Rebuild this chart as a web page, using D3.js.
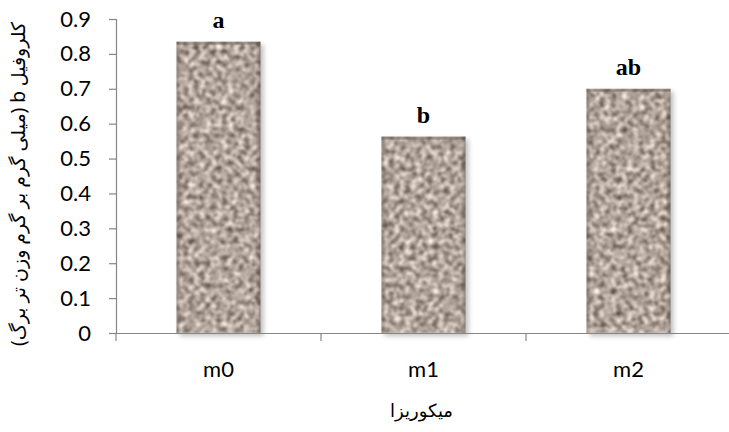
<!DOCTYPE html>
<html>
<head>
<meta charset="utf-8">
<script src="https://cdn.jsdelivr.net/npm/d3@7"></script>
<style>
  html, body { margin: 0; padding: 0; background: #fff; }
  svg { display: block; }
</style>
</head>
<body>
<div id="chart"></div>
<script>
// Chlorophyll b by mycorrhiza treatment
const categories = ["m0", "m1", "m2"];
const values = [0.835, 0.563, 0.700];
const letters = ["a", "b", "ab"];
const yTicks = [0, 0.1, 0.2, 0.3, 0.4, 0.5, 0.6, 0.7, 0.8, 0.9];
const yTitle = "کلروفیل b (میلی گرم بر گرم وزن تر برگ)";
const xTitle = "میکوریزا";

const W = 729, H = 432;
const margin = { left: 116, right: -2, top: 19, bottom: 99 };

const svg = d3.select("#chart").append("svg")
  .attr("width", W).attr("height", H);

const defs = svg.append("defs");

// granite-like fill for the bars
const f = defs.append("filter").attr("id", "granite")
  .attr("color-interpolation-filters", "sRGB")
  .attr("x", "0").attr("y", "0").attr("width", "1").attr("height", "1");
f.append("feTurbulence").attr("type", "fractalNoise")
  .attr("baseFrequency", "0.18").attr("numOctaves", 3).attr("seed", 7)
  .attr("result", "noise");
f.append("feColorMatrix").attr("in", "noise").attr("type", "matrix")
  .attr("values", [
    "1.05 0 0 0 0.17",
    "1.05 0 0 0 0.12",
    "1.05 0 0 0 0.08",
    "0 0 0 0 1"].join(" "))
  .attr("result", "tone");
f.append("feGaussianBlur").attr("in", "tone").attr("stdDeviation", 0.9)
  .attr("result", "soft");
f.append("feComposite").attr("in", "soft").attr("in2", "SourceGraphic")
  .attr("operator", "in");

const shadow = defs.append("filter").attr("id", "shadow")
  .attr("x", "-20%").attr("y", "-20%").attr("width", "140%").attr("height", "140%");
shadow.append("feGaussianBlur").attr("stdDeviation", 2.5);

// soft bevel along the edges
const gH = defs.append("linearGradient").attr("id", "bevelH")
  .attr("x1", "0").attr("x2", "1").attr("y1", "0").attr("y2", "0");
[[0, 0.35], [0.06, 0], [0.94, 0], [1, 0.4]].forEach(([o, a]) =>
  gH.append("stop").attr("offset", o).attr("stop-color", "#3a3028").attr("stop-opacity", a));

const x = d3.scaleBand().domain(categories)
  .range([margin.left, W - margin.right]).paddingInner(0.59).paddingOuter(0.295);
const y = d3.scaleLinear().domain([0, 0.9]).range([H - margin.bottom, margin.top]);

const xBand = d3.scaleBand().domain(categories)
  .range([margin.left, W - margin.right]);

// bar shadows
svg.append("g").selectAll("rect").data(values).join("rect")
  .attr("x", (d, i) => x(categories[i]) + 3)
  .attr("y", d => y(d) + 3)
  .attr("width", x.bandwidth())
  .attr("height", d => y(0) - y(d))
  .attr("fill", "#000").attr("opacity", 0.25)
  .attr("filter", "url(#shadow)");

// bars
const bars = svg.append("g");
bars.selectAll("rect.bar").data(values).join("rect")
  .attr("class", "bar")
  .attr("x", (d, i) => x(categories[i]))
  .attr("y", d => y(d))
  .attr("width", x.bandwidth())
  .attr("height", d => y(0) - y(d))
  .attr("fill", "#b8aca0")
  .attr("filter", "url(#granite)");
bars.selectAll("rect.bevel").data(values).join("rect")
  .attr("class", "bevel")
  .attr("x", (d, i) => x(categories[i]))
  .attr("y", d => y(d))
  .attr("width", x.bandwidth())
  .attr("height", d => y(0) - y(d))
  .attr("fill", "url(#bevelH)");
bars.selectAll("rect.topEdge").data(values).join("rect")
  .attr("class", "topEdge")
  .attr("x", (d, i) => x(categories[i]))
  .attr("y", d => y(d))
  .attr("width", x.bandwidth())
  .attr("height", 3)
  .attr("fill", "#5a4e44").attr("opacity", 0.4);

// significance letters
svg.append("g").selectAll("text").data(values).join("text")
  .attr("x", (d, i) => x(categories[i]) + x.bandwidth() / 2)
  .attr("y", d => y(d) - 14)
  .attr("text-anchor", "middle")
  .attr("font-family", "'Liberation Serif', 'DejaVu Serif', serif")
  .attr("font-weight", "bold")
  .attr("font-size", 24)
  .attr("fill", "#000")
  .text((d, i) => letters[i]);

// y axis
const yAxis = svg.append("g")
  .attr("transform", `translate(${margin.left},0)`)
  .call(d3.axisLeft(y).tickValues(yTicks).tickSize(7).tickPadding(18)
    .tickFormat(d => d === 0 ? "0" : d3.format(".1f")(d)));
yAxis.select(".domain").attr("stroke", "#868686").attr("stroke-width", 1.2);
yAxis.selectAll(".tick line").attr("stroke", "#868686").attr("stroke-width", 1.2);
yAxis.selectAll(".tick text")
  .attr("font-family", "Lato, 'Open Sans', sans-serif")
  .attr("font-size", 22).attr("fill", "#000");

// x axis
const xAxis = svg.append("g")
  .attr("transform", `translate(0,${y(0)})`)
  .call(d3.axisBottom(xBand).tickSize(0).tickPadding(28));
xAxis.select(".domain").attr("stroke", "#868686").attr("stroke-width", 1.2);
xAxis.selectAll(".tick text")
  .attr("font-family", "Lato, 'Open Sans', sans-serif")
  .attr("font-size", 22).attr("fill", "#000");
// boundary ticks between categories
xAxis.append("g").selectAll("line")
  .data(categories.map(c => xBand(c)))
  .join("line")
  .attr("x1", d => d).attr("x2", d => d)
  .attr("y1", 0).attr("y2", 8)
  .attr("stroke", "#868686").attr("stroke-width", 1.2);

// axis titles
svg.append("text")
  .attr("transform", `translate(25,${(margin.top + y(0)) / 2 + 8}) rotate(-90)`)
  .attr("text-anchor", "middle")
  .attr("direction", "rtl")
  .attr("font-family", "'Noto Sans', 'DejaVu Sans', sans-serif")
  .attr("font-size", 19)
  .attr("fill", "#000")
  .text(yTitle);

svg.append("text")
  .attr("x", (margin.left + W) / 2 - 1)
  .attr("y", 417)
  .attr("text-anchor", "middle")
  .attr("direction", "rtl")
  .attr("font-family", "'Noto Sans', 'DejaVu Sans', sans-serif")
  .attr("font-size", 18)
  .attr("fill", "#000")
  .text(xTitle);
</script>
</body>
</html>
